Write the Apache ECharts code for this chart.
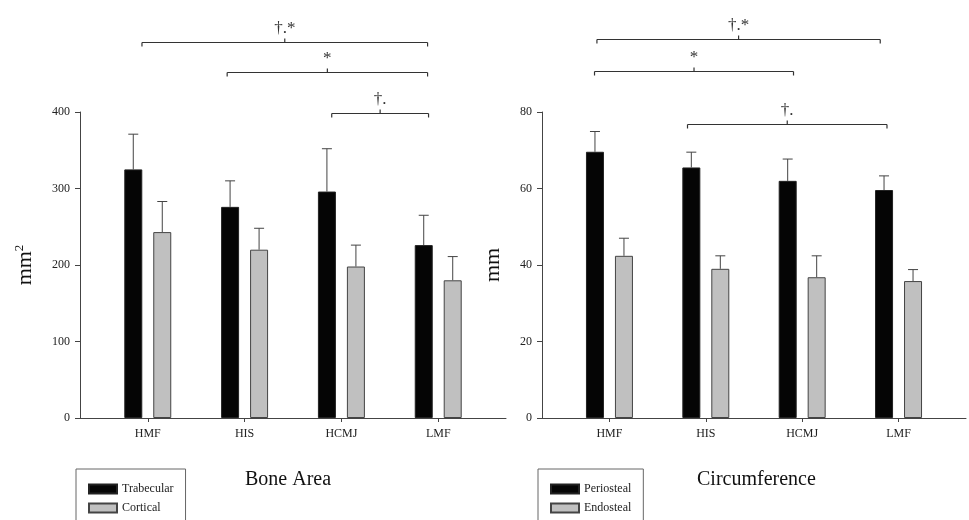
<!DOCTYPE html>
<html>
<head>
<meta charset="utf-8">
<script src="https://cdn.jsdelivr.net/npm/echarts@6/dist/echarts.min.js"></script>
<style>
  html, body { margin: 0; padding: 0; background: #fff; }
  #chart { width: 969px; height: 520px; }
</style>
</head>
<body>
<div id="chart"></div>
<script>
'use strict';

var groups = ['HMF', 'HIS', 'HCMJ', 'LMF'];

// bone area, mm2
var trabecular = [325, 276, 296, 226];
var trabecularErr = [371, 310, 352, 265];
var cortical = [243, 220, 198, 180];
var corticalErr = [283, 248, 226, 211];

// circumference, mm
var periosteal = [69.6, 65.5, 62.0, 59.6];
var periostealErr = [74.9, 69.5, 67.7, 63.3];
var endosteal = [42.4, 39.0, 36.8, 35.8];
var endostealErr = [47.0, 42.4, 42.4, 38.8];

var areaTicks = [0, 100, 200, 300, 400];
var circTicks = [0, 20, 40, 60, 80];

// significance brackets: [from group, to group, level, mark]
var areaBrackets = [
  [-0.06, 2.89, 491, '\u2020.*'],
  [0.82, 2.89, 452, '*'],
  [1.90, 2.90, 399, '\u2020.']
];
var circBrackets = [
  [-0.13, 2.81, 99, '\u2020.*'],
  [-0.155, 1.91, 90.8, '*'],
  [0.81, 2.88, 76.9, '\u2020.']
];

var serif = "'Liberation Serif', 'Times New Roman', serif";
var axisGray = '#444';

function pairs(vals) {
  return vals.map(function(v, i) { return [i, v]; });
}

function errSeries(idx, vals, errs, off) {
  return {
    type: 'custom',
    xAxisIndex: idx,
    yAxisIndex: idx,
    z: 1,
    data: vals.map(function(v, i) { return [i, v, errs[i]]; }),
    encode: { x: 0, y: [1, 2] },
    renderItem: function(params, api) {
      var p0 = api.coord([api.value(0), api.value(1)]);
      var p1 = api.coord([api.value(0), api.value(2)]);
      var x = p0[0] + off;
      return {
        type: 'group',
        children: [
          { type: 'line', shape: { x1: x, y1: p0[1], x2: x, y2: p1[1] }, style: { stroke: axisGray, lineWidth: 1 } },
          { type: 'line', shape: { x1: x - 5, y1: p1[1], x2: x + 5, y2: p1[1] }, style: { stroke: axisGray, lineWidth: 1 } }
        ]
      };
    }
  };
}

function bracketSeries(idx, list) {
  return {
    type: 'custom',
    xAxisIndex: idx,
    yAxisIndex: idx,
    clip: false,
    silent: true,
    data: list.map(function(b) { return [b[0], b[1], b[2]]; }),
    encode: { x: [0, 1], y: 2 },
    renderItem: function(params, api) {
      var a = api.coord([api.value(0), api.value(2)]);
      var b = api.coord([api.value(1), api.value(2)]);
      var y = Math.round(a[1]) + 0.5;
      var mid = (a[0] + b[0]) / 2;
      var st = { stroke: '#333', lineWidth: 1.2 };
      return {
        type: 'group',
        children: [
          { type: 'line', shape: { x1: a[0], y1: y, x2: b[0], y2: y }, style: st },
          { type: 'line', shape: { x1: a[0], y1: y, x2: a[0], y2: y + 4 }, style: st },
          { type: 'line', shape: { x1: b[0], y1: y, x2: b[0], y2: y + 4 }, style: st },
          { type: 'line', shape: { x1: mid, y1: y, x2: mid, y2: y - 4 }, style: st },
          {
            type: 'text',
            style: {
              text: list[params.dataIndex][3],
              x: mid, y: y - 5,
              align: 'center', verticalAlign: 'bottom',
              textAlign: 'center', textVerticalAlign: 'bottom',
              font: '17px ' + serif,
              fill: '#333'
            }
          }
        ]
      };
    }
  };
}

function xAxisFor(idx) {
  return {
    type: 'value',
    gridIndex: idx,
    min: -0.7,
    max: 3.7,
    splitLine: { show: false },
    axisLine: { show: true, onZero: false, lineStyle: { color: axisGray, width: 1 } },
    axisTick: { show: true, length: 4, customValues: [0, 1, 2, 3], lineStyle: { color: axisGray } },
    axisLabel: {
      customValues: [0, 1, 2, 3],
      formatter: function(v) { return groups[Math.round(v)]; },
      fontFamily: serif, fontSize: 12, color: '#222', margin: 10
    }
  };
}

function yAxisFor(idx, ticks, name, gap) {
  return {
    type: 'value',
    gridIndex: idx,
    min: ticks[0],
    max: ticks[ticks.length - 1],
    interval: ticks[1] - ticks[0],
    splitLine: { show: false },
    axisLine: { show: true, onZero: false, lineStyle: { color: axisGray, width: 1 } },
    axisTick: { show: true, length: 5, lineStyle: { color: axisGray } },
    axisLabel: { fontFamily: serif, fontSize: 12, color: '#222', margin: 10 },
    name: name,
    nameLocation: 'middle',
    nameRotate: 90,
    nameGap: gap,
    nameTextStyle: {
      fontFamily: serif, fontSize: 22, color: '#111',
      rich: {
        b: { fontFamily: serif, fontSize: 22, color: '#111' },
        s: { fontFamily: serif, fontSize: 13, color: '#111', verticalAlign: 'top', padding: [0, 0, 12, 0] }
      }
    }
  };
}

function legendFor(left, names) {
  return {
    data: names,
    orient: 'vertical',
    left: left,
    top: 469,
    height: 60,
    padding: [14, 12, 22, 12],
    itemWidth: 28,
    itemHeight: 9,
    itemGap: 7,
    borderColor: '#666',
    borderWidth: 1,
    selectedMode: false,
    icon: 'rect',
    textStyle: { fontFamily: serif, fontSize: 12, color: '#222' }
  };
}

var blackStyle = { color: '#050505', borderColor: '#222', borderWidth: 1 };
var grayStyle = { color: '#c0c0c0', borderColor: '#444', borderWidth: 1 };

var myChart = echarts.init(document.getElementById('chart'));

var option = {
  animation: false,
  backgroundColor: '#fff',
  title: [
    { text: 'Bone Area', left: 240, top: 465, textStyle: { fontFamily: serif, fontSize: 20, fontWeight: 'normal', color: '#111' } },
    { text: 'Circumference', left: 692, top: 465, textStyle: { fontFamily: serif, fontSize: 20, fontWeight: 'normal', color: '#111' } }
  ],
  legend: [
    legendFor(76, ['Trabecular', 'Cortical']),
    legendFor(538, ['Periosteal', 'Endosteal'])
  ],
  grid: [
    { left: 80, top: 112, width: 426, height: 306 },
    { left: 542, top: 112, width: 424, height: 306 }
  ],
  xAxis: [xAxisFor(0), xAxisFor(1)],
  yAxis: [
    yAxisFor(0, areaTicks, '{b|mm}{s|2}', 42),
    yAxisFor(1, circTicks, 'mm', 38)
  ],
  series: [
    { name: 'Trabecular', type: 'bar', xAxisIndex: 0, yAxisIndex: 0, barWidth: 18, barGap: '61%', itemStyle: blackStyle, data: pairs(trabecular), z: 2 },
    { name: 'Cortical', type: 'bar', xAxisIndex: 0, yAxisIndex: 0, barWidth: 18, barGap: '61%', itemStyle: grayStyle, data: pairs(cortical), z: 2 },
    { name: 'Periosteal', type: 'bar', xAxisIndex: 1, yAxisIndex: 1, barWidth: 18, barGap: '61%', itemStyle: blackStyle, data: pairs(periosteal), z: 2 },
    { name: 'Endosteal', type: 'bar', xAxisIndex: 1, yAxisIndex: 1, barWidth: 18, barGap: '61%', itemStyle: grayStyle, data: pairs(endosteal), z: 2 },
    errSeries(0, trabecular, trabecularErr, -14.5),
    errSeries(0, cortical, corticalErr, 14.5),
    errSeries(1, periosteal, periostealErr, -14.5),
    errSeries(1, endosteal, endostealErr, 14.5),
    bracketSeries(0, areaBrackets),
    bracketSeries(1, circBrackets)
  ]
};

myChart.setOption(option);
</script>
</body>
</html>
